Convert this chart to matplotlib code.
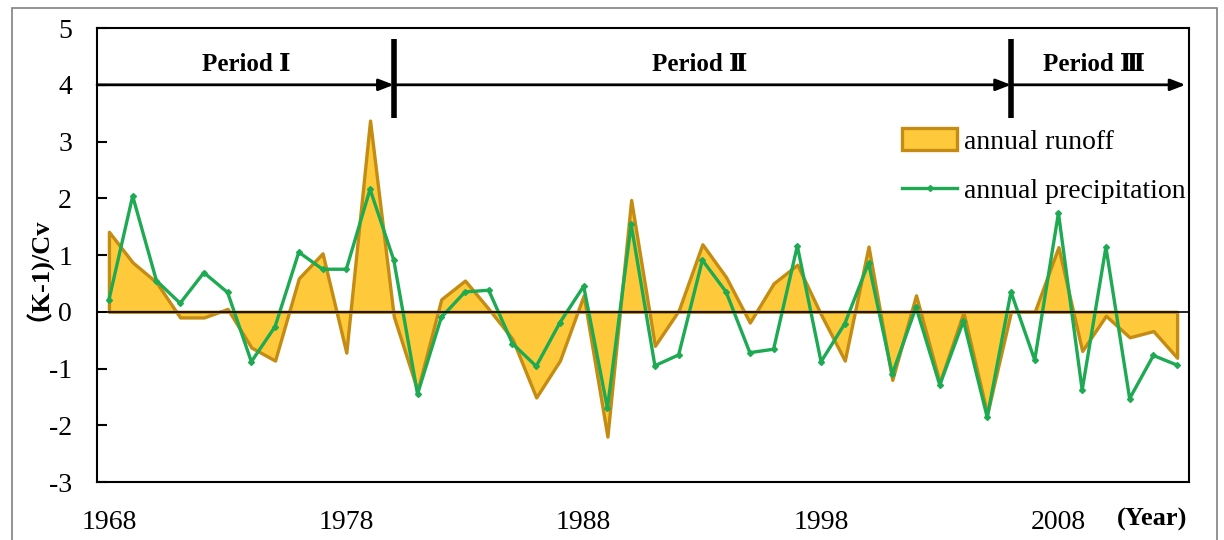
import numpy as np
import matplotlib
matplotlib.use('Agg')
from matplotlib import pyplot as plt
from matplotlib.patches import Rectangle

#####################################
# Data
years = list(range(1968, 2014))
runoff = [1.41, 0.87, 0.52, -0.10, -0.10, 0.05, -0.63, -0.86, 0.59, 1.03,
          -0.72, 3.37, -0.08, -1.39, 0.22, 0.55, 0.05, -0.48, -1.51, -0.86,
          0.29, -2.20, 1.97, -0.60, 0.02, 1.19, 0.61, -0.19, 0.50, 0.83,
          -0.05, -0.86, 1.15, -1.20, 0.29, -1.25, -0.01, -1.80, 0.00, 0.00,
          1.14, -0.69, -0.07, -0.45, -0.34, -0.81]
precip = [0.21, 2.04, 0.55, 0.15, 0.69, 0.34, -0.88, -0.26, 1.05, 0.75,
          0.75, 2.16, 0.91, -1.45, -0.10, 0.35, 0.38, -0.56, -0.96, -0.19,
          0.45, -1.70, 1.54, -0.95, -0.76, 0.91, 0.35, -0.72, -0.66, 1.16,
          -0.88, -0.21, 0.86, -1.10, 0.08, -1.29, -0.16, -1.86, 0.35, -0.85,
          1.74, -1.38, 1.14, -1.53, -0.77, -0.94]
xtick_years = [1968, 1978, 1988, 1998, 2008]
period_bounds = [1980, 2006]
period_names = ['Period \u2160', 'Period \u2161', 'Period \u2162']
period_label_x = [1973.8, 1992.9, 2009.5]
#####################################

serif = ['Liberation Serif', 'DejaVu Serif']
plt.rcParams['font.family'] = serif
plt.rcParams['axes.unicode_minus'] = False

#####################################
# Figure
fig = plt.figure()
fig.set_dpi(100)
fig.set_size_inches(12.24, 5.4)
ax = fig.add_axes([0.0793, 0.1074, 0.8921, 0.8406])
ax.set_xlim(1967.5, 2013.5)
ax.set_ylim(-3, 5)

# outer grey frame
fig.patches.append(Rectangle((0.010, -0.01), 0.984, 0.995, transform=fig.transFigure,
                             fill=False, edgecolor='#808080', linewidth=1.2))
#####################################

# runoff area + precipitation line
ax.fill_between(years, runoff, 0, facecolor='#FFC93C', edgecolor='#C48C12',
                linewidth=2.4, label='annual runoff', zorder=2)
ax.plot(years, precip, color='#1DAA52', linewidth=2.4, marker='D', markersize=3,
        label='annual precipitation', zorder=3)
ax.axhline(0, color='black', linewidth=1.2, zorder=4)

#####################################
# Periods
arrow = dict(arrowstyle='-|>,head_length=0.9,head_width=0.35',
             color='black', lw=2, shrinkA=0, shrinkB=0)
ax.annotate('', xy=(period_bounds[0], 4), xytext=(1967.5, 4), arrowprops=arrow)
ax.annotate('', xy=(period_bounds[1], 4), xytext=(period_bounds[0], 4), arrowprops=arrow)
ax.annotate('', xy=(2013.35, 4), xytext=(period_bounds[1], 4), arrowprops=arrow)
for b in period_bounds:
    ax.plot([b, b], [3.42, 4.8], color='black', linewidth=4, solid_capstyle='butt')
for name, px in zip(period_names, period_label_x):
    ax.text(px, 4.15, name, ha='center', va='bottom', fontsize=18,
            fontweight='bold', family=serif)
#####################################

# axes styling
ax.set_xticks(xtick_years)
ax.set_xticklabels([str(y) for y in xtick_years])
ax.set_yticks(range(-3, 6))
ax.tick_params(axis='x', length=0, pad=20, labelsize=20)
ax.tick_params(axis='y', direction='in', length=7, width=1.5, pad=18, labelsize=20)
for s in ax.spines.values():
    s.set_linewidth(1.5)
ax.set_ylabel('\uff08K-1)/Cv', fontsize=19, fontweight='bold',
              family=['Liberation Serif', 'Noto Sans CJK SC'])
ax.yaxis.set_label_coords(-0.054, 0.485)
fig.text(1152 / 1224, 1 - 519 / 540, '(Year)', ha='center', va='center',
         fontsize=19, fontweight='bold')

ax.legend(loc='upper left', bbox_to_anchor=(0.737, 0.779), frameon=False,
          fontsize=20, handlelength=2.0, handleheight=0.8, labelspacing=0.84,
          borderpad=0, borderaxespad=0, handletextpad=0.25)

fig.savefig('out.png', dpi=100)
